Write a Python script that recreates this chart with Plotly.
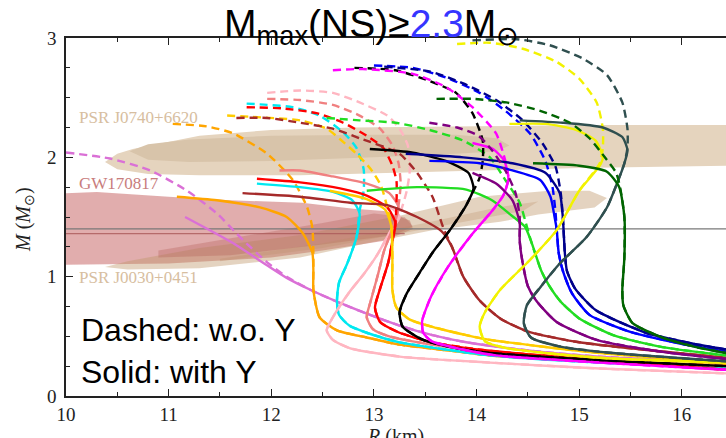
import plotly.graph_objects as go

# ---------------- data (R in km, M in solar masses) ----------------
orchid_dash_top = [(10.0, 2.04), (10.43, 1.99), (10.82, 1.89), (11.18, 1.72), (11.47, 1.53), (11.72, 1.31), (11.96, 1.12), (12.15, 1.0)]
orchid_solid_top = [(11.16, 1.50), (11.63, 1.28), (11.95, 1.10), (12.15, 0.99)]
orchid_low = [(12.38, 0.89), (12.64, 0.79), (12.93, 0.69), (13.25, 0.59), (13.57, 0.51), (13.90, 0.45), (14.52, 0.38), (15.2, 0.33), (16.43, 0.28)]

orange_dash_top = [(11.04, 2.28), (11.37, 2.26), (11.63, 2.20), (11.96, 2.03), (12.21, 1.81), (12.35, 1.58), (12.40, 1.41), (12.41, 1.2)]
orange_solid_top = [(11.08, 1.67), (11.47, 1.64), (11.89, 1.58), (12.15, 1.50), (12.31, 1.36), (12.40, 1.20)]
orange_low = [(12.41, 1.05), (12.41, 0.89), (12.47, 0.66), (12.64, 0.55), (12.93, 0.49), (13.25, 0.43), (13.74, 0.38), (14.13, 0.34), (15.2, 0.29), (16.43, 0.26)]

cyan_dash_top = [(11.76, 2.45), (11.96, 2.44), (12.21, 2.42), (12.47, 2.35), (12.70, 2.21), (12.83, 2.08), (12.90, 1.90), (12.90, 1.72), (12.86, 1.55)]
cyan_solid_top = [(11.86, 1.78), (12.28, 1.75), (12.60, 1.71), (12.79, 1.64), (12.86, 1.53)]
cyan_low = [(12.83, 1.33), (12.74, 1.11), (12.66, 0.95), (12.64, 0.80), (12.66, 0.68), (12.76, 0.59), (12.93, 0.53), (13.25, 0.45), (13.74, 0.385), (14.13, 0.34), (15.2, 0.28), (16.43, 0.24)]

pink_dash_top = [(11.96, 2.54), (12.28, 2.56), (12.60, 2.54), (12.86, 2.46), (13.13, 2.35), (13.25, 2.24), (13.33, 2.10), (13.35, 1.90), (13.32, 1.72), (13.25, 1.52)]
pink_solid_top = [(13.0, 1.62), (13.18, 1.57), (13.25, 1.50)]
pink_low = [(13.16, 1.38), (13.03, 1.18), (12.90, 1.02), (12.76, 0.87), (12.60, 0.66), (12.54, 0.55), (12.60, 0.47), (12.77, 0.40), (13.25, 0.33), (14.13, 0.28), (15.2, 0.23), (16.43, 0.19)]

coral_dash_top = [(11.96, 2.49), (12.28, 2.48), (12.60, 2.44), (12.86, 2.35), (13.06, 2.24), (13.18, 2.10), (13.24, 1.95), (13.26, 1.78), (13.24, 1.60)]
coral_solid_top = [(12.08, 1.89), (12.28, 1.89), (12.60, 1.84), (12.93, 1.78), (13.15, 1.70), (13.24, 1.58)]
coral_low = [(13.18, 1.40), (13.10, 1.22), (13.04, 1.02), (12.97, 0.80), (12.93, 0.66), (12.99, 0.56), (13.15, 0.50), (13.5, 0.44), (14.13, 0.37), (15.2, 0.30), (16.43, 0.25)]

red_dash_top = [(11.76, 2.42), (12.11, 2.41), (12.44, 2.37), (12.70, 2.29), (12.93, 2.18), (13.09, 2.08), (13.18, 1.93), (13.22, 1.80), (13.22, 1.62), (13.21, 1.45)]
red_solid_top = [(11.86, 1.82), (12.28, 1.79), (12.67, 1.74), (12.93, 1.68), (13.13, 1.58), (13.21, 1.45)]
red_low = [(13.18, 1.30), (13.14, 1.12), (13.06, 0.90), (13.01, 0.74), (13.06, 0.62), (13.25, 0.53), (13.57, 0.45), (14.06, 0.385), (15.2, 0.30), (16.43, 0.22)]

gold_dash_top = [(11.57, 2.35), (11.79, 2.34), (12.28, 2.31), (12.54, 2.24), (12.70, 2.13), (12.83, 2.03), (12.97, 1.90), (13.07, 1.76), (13.13, 1.58), (13.17, 1.42)]
gold_solid_top = [(12.57, 1.72), (12.93, 1.65), (13.11, 1.56), (13.17, 1.42)]
gold_low = [(13.18, 1.14), (13.18, 0.89), (13.22, 0.74), (13.35, 0.64), (13.61, 0.57), (13.9, 0.51), (14.13, 0.47), (15.2, 0.36), (16.43, 0.28)]

brown_dash_top = [(11.66, 2.33), (11.96, 2.33), (12.28, 2.29), (12.60, 2.24), (12.86, 2.16), (13.25, 2.03), (13.42, 1.87), (13.57, 1.67), (13.64, 1.50), (13.68, 1.40)]
brown_solid_top = [(11.72, 1.70), (12.28, 1.67), (12.77, 1.62), (13.13, 1.60), (13.42, 1.50), (13.66, 1.38)]
brown_low = [(13.76, 1.25), (13.87, 1.0), (14.03, 0.80), (14.23, 0.65), (14.50, 0.54), (15.0, 0.45), (15.66, 0.385), (16.43, 0.32)]

lime_dash_top = [(12.54, 2.33), (12.86, 2.31), (13.21, 2.29), (13.54, 2.23), (13.87, 2.14), (14.13, 2.0), (14.28, 1.81), (14.42, 1.62), (14.48, 1.45)]
lime_solid_top = [(12.93, 1.72), (13.42, 1.75), (13.9, 1.73), (14.15, 1.64), (14.33, 1.52), (14.47, 1.42)]
lime_low = [(14.53, 1.30), (14.63, 1.05), (14.71, 0.92), (14.82, 0.79), (15.0, 0.65), (15.33, 0.51), (15.81, 0.41), (16.43, 0.34)]

black_dash_top = [(12.81, 2.75), (13.21, 2.73), (13.54, 2.64), (13.80, 2.54), (13.96, 2.37), (14.06, 2.14), (14.06, 1.97), (14.03, 1.83), (13.97, 1.72)]
black_solid_top = [(12.96, 2.07), (13.38, 2.04), (13.70, 1.97), (13.92, 1.87), (13.97, 1.74)]
black_low = [(13.90, 1.60), (13.74, 1.39), (13.57, 1.20), (13.45, 1.04), (13.32, 0.86), (13.25, 0.70), (13.28, 0.58), (13.48, 0.47), (13.81, 0.40), (14.13, 0.36), (15.2, 0.30), (16.43, 0.25)]

magenta_dash_top = [(12.60, 2.73), (12.89, 2.74), (13.38, 2.70), (13.70, 2.59), (13.96, 2.42), (14.19, 2.20), (14.28, 1.97), (14.31, 1.82)]
magenta_solid_top = [(13.96, 2.12), (14.16, 2.07), (14.27, 1.97), (14.31, 1.82)]
magenta_low = [(14.26, 1.68), (14.15, 1.55), (13.96, 1.36), (13.72, 1.08), (13.56, 0.84), (13.47, 0.63), (13.48, 0.53), (13.56, 0.46), (13.81, 0.40), (14.19, 0.34), (15.2, 0.28), (16.43, 0.22)]

blue_dash_top = [(13.0, 2.77), (13.38, 2.75), (13.70, 2.67), (14.03, 2.54), (14.28, 2.39), (14.52, 2.20), (14.67, 1.97), (14.74, 1.75), (14.77, 1.53), (14.78, 1.40)]
blue_solid_top = [(13.54, 1.97), (14.03, 1.95), (14.35, 1.89), (14.62, 1.81), (14.72, 1.67), (14.76, 1.50), (14.78, 1.40)]
blue_low = [(14.80, 1.2), (14.84, 1.05), (14.93, 0.86), (15.1, 0.68), (15.49, 0.54), (15.98, 0.44), (16.43, 0.37)]

navy_dash_top = [(13.10, 2.76), (13.54, 2.72), (13.87, 2.62), (14.19, 2.48), (14.45, 2.31), (14.64, 2.12), (14.77, 1.92), (14.82, 1.70), (14.84, 1.50), (14.85, 1.35)]
navy_solid_top = [(13.31, 2.03), (13.87, 2.0), (14.35, 1.95), (14.67, 1.87), (14.81, 1.70), (14.84, 1.50), (14.85, 1.35)]
navy_low = [(14.86, 1.2), (14.88, 1.05), (14.96, 0.90), (15.16, 0.72), (15.65, 0.53), (16.1, 0.44), (16.43, 0.39)]

purple_dash_top = [(13.54, 2.29), (13.81, 2.25), (14.02, 2.18), (14.15, 2.06), (14.28, 1.89), (14.38, 1.70), (14.42, 1.50), (14.42, 1.38)]
purple_solid_top = [(13.96, 1.87), (14.19, 1.78), (14.35, 1.64), (14.42, 1.45)]
purple_low = [(14.42, 1.30), (14.45, 1.11), (14.50, 0.92), (14.58, 0.80), (14.78, 0.62), (15.17, 0.47), (15.81, 0.37), (16.43, 0.31)]

yellow_dash_top = [(13.81, 2.95), (14.13, 2.96), (14.45, 2.91), (14.78, 2.80), (15.0, 2.66), (15.17, 2.46), (15.23, 2.24), (15.23, 2.08), (15.20, 1.95)]
yellow_solid_top = [(14.32, 2.28), (14.67, 2.28), (14.97, 2.23), (15.16, 2.14), (15.23, 2.0), (15.20, 1.93)]
yellow_low = [(15.0, 1.72), (14.78, 1.39), (14.52, 1.14), (14.23, 0.89), (14.08, 0.70), (14.03, 0.58), (14.08, 0.46), (14.3, 0.40), (15.2, 0.32), (16.43, 0.28)]

slate_dash_top = [(13.96, 2.98), (14.39, 2.99), (14.71, 2.94), (15.03, 2.83), (15.27, 2.69), (15.42, 2.46), (15.47, 2.24), (15.47, 2.08)]
slate_solid_top = [(14.42, 2.31), (14.84, 2.29), (15.23, 2.25), (15.42, 2.17), (15.47, 2.06)]
slate_low = [(15.44, 1.95), (15.39, 1.83), (15.27, 1.58), (15.07, 1.33), (14.81, 1.11), (14.62, 0.91), (14.49, 0.76), (14.46, 0.61), (14.53, 0.49), (14.84, 0.41), (15.33, 0.36), (16.43, 0.29)]

dkgreen_dash_top = [(13.61, 2.49), (13.96, 2.49), (14.29, 2.46), (14.62, 2.39), (14.91, 2.29), (15.1, 2.16), (15.25, 2.0), (15.36, 1.87), (15.40, 1.74)]
dkgreen_solid_top = [(14.55, 1.95), (15.0, 1.93), (15.27, 1.88), (15.39, 1.75)]
dkgreen_low = [(15.44, 1.50), (15.44, 1.16), (15.42, 0.89), (15.43, 0.76), (15.52, 0.61), (15.81, 0.49), (16.14, 0.41), (16.43, 0.36)]

curve_colors = ["#da70d6", "#ffa500", "#00e8f0", "#ffb6c1", "#f08080", "#ff0000", "#ffcc00", "#a52a2a",
                "#22dd22", "#000000", "#ff00ff", "#0000ff", "#00008b", "#800080", "#f2f200", "#2f4f4f", "#006400"]
curve_sets = [
    (orchid_dash_top, orchid_solid_top, orchid_low),
    (orange_dash_top, orange_solid_top, orange_low),
    (cyan_dash_top, cyan_solid_top, cyan_low),
    (pink_dash_top, pink_solid_top, pink_low),
    (coral_dash_top, coral_solid_top, coral_low),
    (red_dash_top, red_solid_top, red_low),
    (gold_dash_top, gold_solid_top, gold_low),
    (brown_dash_top, brown_solid_top, brown_low),
    (lime_dash_top, lime_solid_top, lime_low),
    (black_dash_top, black_solid_top, black_low),
    (magenta_dash_top, magenta_solid_top, magenta_low),
    (blue_dash_top, blue_solid_top, blue_low),
    (navy_dash_top, navy_solid_top, navy_low),
    (purple_dash_top, purple_solid_top, purple_low),
    (yellow_dash_top, yellow_solid_top, yellow_low),
    (slate_dash_top, slate_solid_top, slate_low),
    (dkgreen_dash_top, dkgreen_solid_top, dkgreen_low),
]

# observational constraint regions (R, M outlines)
j0740_outer = [(10.38, 1.96), (10.5, 2.03), (10.65, 2.07), (11.0, 2.13), (11.3, 2.18), (12.0, 2.23), (12.8, 2.25), (14.0, 2.26), (15.0, 2.27), (16.43, 2.27),
               (16.43, 1.93), (15.0, 1.91), (14.0, 1.89), (13.0, 1.87), (12.28, 1.85), (11.3, 1.85), (10.8, 1.86), (10.5, 1.90), (10.38, 1.96)]
j0740_inner = [(10.62, 2.05), (10.8, 2.11), (11.2, 2.15), (12.0, 2.18), (13.0, 2.19), (13.8, 2.19), (14.2, 2.16), (14.32, 2.10),
               (14.2, 2.05), (13.8, 2.03), (13.0, 2.0), (12.0, 1.97), (11.2, 1.96), (10.8, 1.98), (10.62, 2.05)]
gw_outer = [(10.0, 1.70), (10.3, 1.71), (11.0, 1.67), (11.6, 1.64), (12.3, 1.62), (12.8, 1.57), (13.1, 1.55), (13.35, 1.47), (13.38, 1.40),
            (13.1, 1.30), (12.5, 1.22), (12.0, 1.16), (11.0, 1.11), (10.0, 1.10)]
gw_inner = [(10.9, 1.22), (11.6, 1.32), (12.5, 1.45), (13.0, 1.53), (13.3, 1.50), (13.38, 1.42), (13.2, 1.35), (12.5, 1.27), (11.6, 1.18), (10.9, 1.16)]
j0030_outer = [(10.38, 1.08), (10.6, 1.13), (11.3, 1.24), (12.28, 1.35), (13.25, 1.51), (14.03, 1.67), (14.71, 1.72), (15.1, 1.72), (15.27, 1.66),
               (15.15, 1.58), (14.6, 1.52), (14.23, 1.46), (13.57, 1.39), (12.93, 1.28), (12.28, 1.16), (11.3, 1.07), (10.6, 1.06), (10.38, 1.08)]
j0030_inner = [(11.5, 1.15), (12.5, 1.28), (13.5, 1.45), (14.2, 1.58), (14.6, 1.63), (14.45, 1.55), (13.5, 1.40), (12.5, 1.24), (11.5, 1.13)]

canonical_mass = 1.4
gw_line_mass = 1.36
x_range = [10, 16.43]
y_range = [0, 3]


def xs(pts):
    return [p[0] for p in pts]


def ys(pts):
    return [p[1] for p in pts]


fig = go.Figure()

# regions
for pts, col in [(j0740_outer, "rgb(229,212,190)"), (j0740_inner, "rgb(216,196,170)"),
                 (gw_outer, "rgba(200,105,105,0.55)"), (j0030_outer, "rgba(190,150,105,0.42)"),
                 (gw_inner, "rgba(175,85,80,0.30)"), (j0030_inner, "rgba(185,140,100,0.28)")]:
    fig.add_trace(go.Scatter(x=xs(pts), y=ys(pts), mode="lines", fill="toself", fillcolor=col,
                             line=dict(width=0), hoverinfo="skip", showlegend=False))

# reference mass lines
fig.add_trace(go.Scatter(x=x_range, y=[canonical_mass] * 2, mode="lines",
                         line=dict(color="rgb(120,120,120)", width=1.3), showlegend=False))
fig.add_trace(go.Scatter(x=[10, 13.3], y=[gw_line_mass] * 2, mode="lines",
                         line=dict(color="rgb(170,90,90)", width=1), showlegend=False))

# M-R curves
for col, (dtop, stop, low) in zip(curve_colors, curve_sets):
    dpts = dtop + low
    spts = stop + low
    fig.add_trace(go.Scatter(x=xs(spts), y=ys(spts), mode="lines",
                             line=dict(color=col, width=2.4, shape="spline", smoothing=0.6), showlegend=False))
    fig.add_trace(go.Scatter(x=xs(dpts), y=ys(dpts), mode="lines",
                             line=dict(color=col, width=2.4, dash="8px,5px", shape="spline", smoothing=0.6), showlegend=False))

serif = "Liberation Serif"
fig.update_layout(
    width=726, height=438,
    margin=dict(l=66, r=0, t=38, b=42),
    paper_bgcolor="white", plot_bgcolor="white",
    xaxis=dict(range=x_range, tickvals=[10, 11, 12, 13, 14, 15, 16], ticks="inside", ticklen=7, tickwidth=1.2,
               tickcolor="#222", showline=True, linecolor="#222", linewidth=1.6, mirror="ticks", showgrid=False,
               zeroline=False, tickfont=dict(family=serif, size=19, color="#222"), ticklabelstandoff=0,
               minor=dict(dtick=0.5, ticks="inside", ticklen=4, tickcolor="#222", showgrid=False)),
    yaxis=dict(range=y_range, tickvals=[0, 1, 2, 3], ticks="inside", ticklen=7, tickwidth=1.2,
               tickcolor="#222", showline=True, linecolor="#222", linewidth=1.6, showgrid=False,
               zeroline=False, tickfont=dict(family=serif, size=19, color="#222"), ticklabelstandoff=4,
               minor=dict(dtick=0.25, ticks="inside", ticklen=4, tickcolor="#222", showgrid=False)),
)

ann = []
ann.append(dict(text="PSR J0740+6620", x=10.11, y=2.33, xanchor="left", yanchor="middle",
                font=dict(family=serif, size=17, color="rgb(215,190,160)")))
ann.append(dict(text="GW170817", x=10.11, y=1.78, xanchor="left", yanchor="middle",
                font=dict(family=serif, size=17, color="rgb(200,125,125)")))
ann.append(dict(text="PSR J0030+0451", x=10.11, y=0.99, xanchor="left", yanchor="middle",
                font=dict(family=serif, size=17, color="rgb(215,190,160)")))
ann.append(dict(text="Dashed: w.o. Y", x=10.13, y=0.55, xanchor="left", yanchor="middle",
                font=dict(family="Liberation Sans", size=32, color="black")))
ann.append(dict(text="Solid: with Y", x=10.13, y=0.20, xanchor="left", yanchor="middle",
                font=dict(family="Liberation Sans", size=32, color="black")))
for a in ann:
    a.update(xref="x", yref="y", showarrow=False)

fig.update_layout(annotations=ann + [
    dict(text="M<sub>max</sub>(NS)≥<span style='color:#3535ff'>2.3</span>M<sub>⊙</sub>",
         xref="paper", yref="paper", x=(222 - 66) / 660, y=1.0 + 11 / 358, xanchor="left", yanchor="middle",
         showarrow=False, font=dict(family="Liberation Sans", size=39, color="black")),
    dict(text="<i>M</i> (<i>M</i><sub>⊙</sub>)", xref="paper", yref="paper", x=(24 - 66) / 660,
         y=(396 - 220) / 358, textangle=-90, showarrow=False, xanchor="center", yanchor="middle",
         font=dict(family=serif, size=20, color="#222")),
    dict(text="<i>R</i> (km)", xref="paper", yref="paper", x=(395 - 66) / 660, y=(396 - 423) / 358,
         xanchor="center", yanchor="top", showarrow=False, font=dict(family=serif, size=20, color="#222")),
])

fig.write_html("out.html")
